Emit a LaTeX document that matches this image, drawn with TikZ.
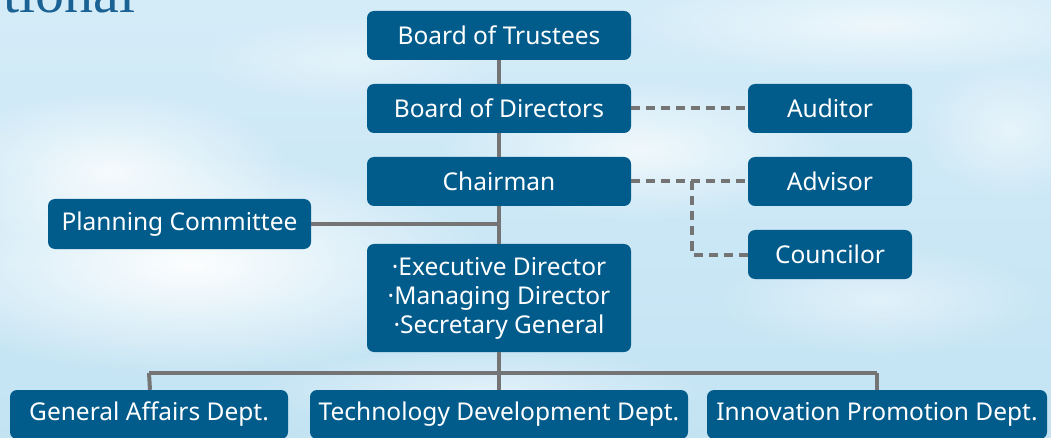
\documentclass[tikz,border=0pt]{standalone}
\usepackage{fontspec}
\setmainfont{Noto Sans}
\newfontfamily\titlefont{Liberation Serif}
\usetikzlibrary{fadings}
\definecolor{boxblue}{HTML}{015B8B}
\definecolor{linegray}{HTML}{747474}
\definecolor{skytop}{HTML}{D4ECF8}
\definecolor{skybot}{HTML}{C3E3F3}
\definecolor{titleblue}{HTML}{1A6194}
\tikzfading[name=cloudfade, inner color=transparent!0, outer color=transparent!100]
\begin{document}
\begin{tikzpicture}[x=1pt,y=-1pt,
  orgbox/.style={fill=boxblue, rounded corners=7pt, text=white, inner sep=0pt,
    font=\fontsize{24.5}{29}\selectfont, align=center},
  wide/.style={minimum width=264pt, minimum height=49pt},
  side/.style={minimum width=164pt, minimum height=49pt},
  solidline/.style={draw=linegray, line width=4pt},
  dashline/.style={draw=linegray, line width=4pt, dash pattern=on 9pt off 6pt},
  cloud/.style={fill=white, path fading=cloudfade}]
% background
\shade[top color=skytop, bottom color=skybot] (0,0) rectangle (1051,438);
\useasboundingbox (0,0) rectangle (1051,438);
\begin{scope}
\clip (0,0) rectangle (1051,438);
\fill[cloud, opacity=0.95] (190,265) ellipse (300 and 110);
\fill[cloud, opacity=0.8] (110,170) ellipse (180 and 80);
\fill[cloud, opacity=0.7] (640,150) ellipse (200 and 70);
\fill[cloud, opacity=0.6] (880,25) ellipse (260 and 50);
\fill[cloud, opacity=0.5] (1010,130) ellipse (90 and 70);
\fill[cloud, opacity=0.45] (880,300) ellipse (170 and 55);
\fill[cloud, opacity=0.5] (480,390) ellipse (230 and 40);
\fill[cloud, opacity=0.4] (350,60) ellipse (160 and 45);
\node[anchor=base east, inner sep=0pt, text=titleblue, font=\titlefont\fontsize{58}{60}\selectfont] (title) at (136,13) {tional};
\end{scope}
% nodes
\node[orgbox, wide] (trustees) at (499,35.5) {Board of Trustees};
\node[orgbox, wide] (directors) at (499,108.5) {Board of Directors};
\node[orgbox, wide] (chairman) at (499,181.5) {Chairman};
\node[orgbox, side] (auditor) at (830,108.5) {Auditor};
\node[orgbox, side] (advisor) at (830,181.5) {Advisor};
\node[orgbox, side] (councilor) at (830,254.5) {Councilor};
\node[orgbox, minimum width=263pt, minimum height=50pt] (planning) at (179.5,224) {Planning Committee};
\node[orgbox, minimum width=264pt, minimum height=108pt] (exec) at (499,298) {·Executive Director\\·Managing Director\\·Secretary General};
\node[orgbox, minimum width=278pt, minimum height=49pt] (general) at (149,414.5) {General Affairs Dept.};
\node[orgbox, minimum width=378pt, minimum height=49pt] (tech) at (499,414.5) {Technology Development Dept.};
\node[orgbox, minimum width=340pt, minimum height=49pt] (innov) at (877,414.5) {Innovation Promotion Dept.};
% connectors
\coordinate (bus) at (499,373);
\coordinate (split) at (692,181.5);
\path[solidline] (trustees.south) -- (directors.north);
\path[solidline] (directors.south) -- (chairman.north);
\path[solidline] (chairman.south) -- (exec.north);
\path[solidline] (planning.east) -- (planning.east -| exec.north);
\path[solidline] (exec.south) -- (bus);
\path[solidline] (bus -| general.north) -- (bus -| innov.north);
\path[solidline] (bus -| general.north) -- ([xshift=1pt]general.north);
\path[solidline] (bus) -- (tech.north);
\path[solidline] (bus -| innov.north) -- (innov.north);
\path[dashline] (directors.east) -- (auditor.west);
\path[dashline] (chairman.east) -- (advisor.west);
\path[dashline] (split) -- (split |- councilor.west) -- (councilor.west);
\end{tikzpicture}
\end{document}
